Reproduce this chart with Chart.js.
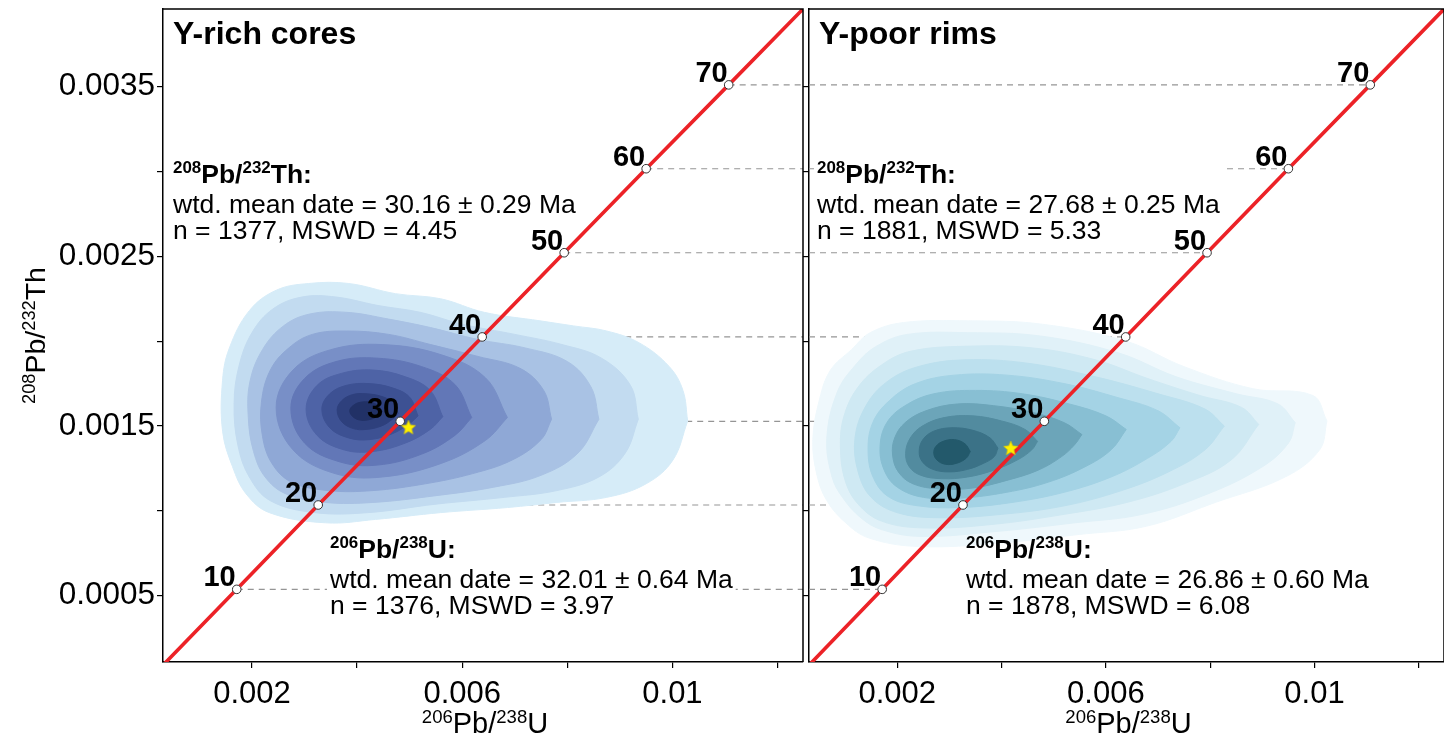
<!DOCTYPE html>
<html>
<head>
<meta charset="utf-8">
<title>208Pb/232Th vs 206Pb/238U density</title>
<script src="https://cdn.jsdelivr.net/npm/chart.js@4.4.1/dist/chart.umd.min.js"></script>
<style>
  html, body { margin: 0; padding: 0; background: #ffffff; overflow: hidden; }
  #stage { position: relative; width: 1444px; height: 738px; overflow: hidden; background: #ffffff; }
  #cores { position: absolute; left: 0; top: 0; }
  #rims { position: absolute; left: 800px; top: 0; }
</style>
</head>
<body>
<div id="stage">
  <canvas id="cores" width="812" height="738"></canvas>
  <canvas id="rims" width="653" height="738"></canvas>
</div>
<script>
const FONT = '"Liberation Sans", Arial, Helvetica, sans-serif';

// ---- axes ----
const X_RANGE = [0.000307, 0.012484];
const Y_RANGE = [0.00011, 0.003957];
const X_TICKS = [0.002, 0.004, 0.006, 0.008, 0.010, 0.012];
const X_TICK_LABELS = ['0.002', '', '0.006', '', '0.01', ''];
const Y_TICKS = [0.0005, 0.0010, 0.0015, 0.0020, 0.0025, 0.0030, 0.0035];
const Y_TICK_LABELS = ['0.0005', '', '0.0015', '', '0.0025', '', '0.0035'];
const X_TITLE = '^{206}Pb/^{238}U';
const Y_TITLE = '^{208}Pb/^{232}Th';

// ---- concordia curve (Ma) ----
const CURVE_AGES = [0, 10, 20, 30, 40, 50, 60, 70, 80];
const CURVE_X = [0.000155, 0.00171, 0.00326, 0.00482, 0.00638, 0.00794, 0.00950, 0.01107, 0.01264];
const CURVE_Y = [0.000043, 0.000538, 0.001035, 0.001528, 0.002025, 0.002521, 0.003016, 0.003510, 0.004006];
const MARKED_AGES = [10, 20, 30, 40, 50, 60, 70];

// ---- decay constants (1/yr) ----
const LAMBDA_238 = 1.55125e-10;
const LAMBDA_232 = 4.9475e-11;

// ---- panel summaries ----
const PANEL_NAMES = ['Y-rich cores', 'Y-poor rims'];
const TH_DATE = [30.16, 27.68];
const TH_ERR = [0.29, 0.25];
const TH_N = [1377, 1881];
const TH_MSWD = ['4.45', '5.33'];
const U_DATE = [32.01, 26.86];
const U_ERR = [0.64, 0.60];
const U_N = [1376, 1878];
const U_MSWD = ['3.97', '6.08'];

// ---- density outlines, ratio x 10^4, outermost level first ----
const UNIT = 1e-4;
const CORES_DENSITY = [
  [102.9,15.3, 102.0,17.1, 99.4,18.5, 93.7,19.9, 87.5,20.6, 81.2,20.9, 74.8,21.2, 64.2,21.7, 55.9,22.5, 47.3,22.8, 38.4,23.4, 30.8,23.4, 24.6,23.0, 19.5,21.8, 15.7,19.6, 14.4,17.7, 14.4,14.7, 16.3,12.6, 18.9,11.0, 23.3,9.9, 34.0,9.3, 43.5,9.5, 55.9,9.9, 68.6,10.2, 78.0,10.5, 87.5,10.8, 95.0,11.6, 100.1,13.0],
  [93.5,15.4, 92.0,17.4, 86.5,19.0, 79.0,19.8, 70.0,20.4, 60.0,21.0, 52.0,21.7, 44.0,22.1, 36.0,22.6, 29.5,22.6, 24.0,21.9, 20.0,20.5, 17.5,18.5, 16.6,16.3, 17.3,13.9, 19.5,12.0, 23.5,10.6, 32.0,9.9, 42.0,9.9, 55.0,10.4, 68.0,10.8, 78.0,11.2, 86.0,12.0, 91.0,13.4],
  [86.0,15.4, 84.5,17.3, 80.0,18.8, 72.0,19.6, 63.0,20.1, 54.0,20.8, 46.0,21.3, 38.0,21.7, 31.0,21.6, 26.0,20.9, 22.0,19.5, 19.6,17.6, 19.3,15.5, 20.3,13.5, 22.5,12.0, 26.5,11.0, 34.0,10.5, 43.0,10.5, 55.0,10.9, 66.0,11.4, 75.0,12.1, 82.0,13.4],
  [77.0,15.4, 75.5,17.1, 71.0,18.4, 63.0,19.1, 54.0,19.8, 46.0,20.4, 38.0,20.6, 31.5,20.4, 27.0,19.6, 23.5,18.3, 21.8,16.4, 22.0,14.4, 23.8,12.8, 27.5,11.7, 34.5,11.2, 43.0,11.2, 53.0,11.6, 62.0,12.2, 69.5,13.0, 75.0,14.2],
  [68.6,15.5, 64.4,17.85, 56.0,19.2, 44.8,19.8, 35.0,19.5, 27.8,18.3, 24.6,16.1, 27.8,13.6, 35.8,12.2, 44.8,12.0, 56.0,12.8, 64.4,14.15],
  [61.8,15.5, 58.6,17.45, 52.3,18.5, 43.8,19.0, 36.0,18.8, 30.0,17.8, 27.4,16.05, 30.0,14.0, 36.6,12.9, 43.8,12.7, 52.3,13.35, 58.6,14.45],
  [56.3,15.55, 53.9,17.1, 49.2,17.9, 43.0,18.3, 37.0,18.1, 32.4,17.4, 30.3,16.0, 32.4,14.45, 37.5,13.6, 43.0,13.5, 49.2,14.0, 53.9,14.8],
  [51.6,15.6, 50.0,16.7, 46.7,17.25, 42.3,17.5, 38.0,17.4, 34.8,16.9, 33.3,16.0, 34.8,14.9, 38.4,14.3, 42.3,14.2, 46.7,14.55, 50.0,15.15],
  [47.8,15.75, 46.7,16.4, 44.6,16.75, 41.7,16.9, 39.1,16.85, 37.1,16.5, 36.2,15.95, 37.1,15.25, 39.3,14.85, 41.7,14.8, 44.6,15.0, 46.7,15.4],
  [44.8,15.85, 44.0,16.2, 42.6,16.4, 40.6,16.4, 39.2,16.2, 38.6,15.9, 39.2,15.55, 40.6,15.35, 42.6,15.4, 44.0,15.6]
];
const CORES_FILL = ['#d6ecf8', '#c2dbf0', '#a9c2e4', '#8fa8d6', '#788fc7', '#6277b7', '#4e63a6', '#3d5193', '#2e407d', '#213166'];

const RIMS_DENSITY = [
  [102.4,15.3, 99.7,16.8, 88.2,17.2, 75.0,18.5, 63.9,20.0, 47.8,21.0, 33.6,21.2, 21.2,21.1, 14.8,20.5, 11.2,19.5, 7.2,18.3, 5.1,16.6, 3.8,14.2, 4.6,12.1, 6.5,10.6, 10.1,9.3, 14.6,8.4, 24.2,7.9, 39.3,8.1, 54.4,8.6, 67.8,9.1, 81.0,10.5, 94.4,12.0, 101.0,13.6],
  [96.3,15.2, 93.0,16.3, 85.0,16.9, 73.5,17.9, 62.5,19.3, 47.5,20.3, 33.5,20.5, 22.0,20.4, 16.0,19.7, 12.0,18.6, 8.5,17.0, 6.5,14.3, 7.5,12.0, 9.5,10.8, 13.0,9.6, 17.0,8.9, 24.5,8.5, 39.3,8.8, 54.0,9.3, 67.0,9.8, 79.5,11.0, 90.0,12.6, 95.0,14.0],
  [89.3,15.1, 86.0,16.1, 78.0,16.8, 68.0,17.8, 58.0,18.9, 46.0,19.6, 33.0,19.7, 22.5,19.4, 17.0,18.6, 12.5,17.3, 9.8,15.6, 9.1,13.8, 10.0,11.8, 12.5,10.4, 17.0,9.4, 25.0,9.0, 38.0,9.2, 52.0,9.8, 64.0,10.5, 75.0,11.6, 84.0,13.0],
  [82.7,15.0, 79.0,16.0, 70.0,16.9, 58.0,17.9, 45.0,18.7, 33.0,18.9, 24.0,18.5, 18.0,17.6, 14.0,16.2, 11.9,14.3, 12.5,12.3, 15.0,10.8, 20.0,9.9, 28.0,9.6, 40.0,9.8, 52.0,10.3, 63.0,11.2, 72.0,12.3, 79.0,13.6],
  [74.2,14.9, 70.0,15.9, 62.0,16.7, 52.0,17.5, 41.0,18.0, 31.0,18.0, 23.5,17.5, 18.5,16.5, 15.3,15.2, 14.4,13.5, 15.5,11.9, 18.5,10.8, 24.0,10.3, 32.0,10.2, 42.0,10.5, 52.0,11.1, 61.0,12.0, 68.0,13.1, 72.5,14.1],
  [63.9,14.8, 60.0,15.6, 53.0,16.3, 44.0,16.9, 35.0,17.1, 27.0,16.9, 21.5,16.2, 18.0,15.2, 16.7,13.8, 17.5,12.4, 20.0,11.4, 25.0,10.8, 32.0,10.75, 41.0,11.1, 49.0,11.7, 56.0,12.6, 61.0,13.6],
  [55.4,14.5, 52.0,15.2, 46.0,15.8, 38.5,16.2, 31.5,16.3, 25.5,15.9, 21.5,15.2, 19.5,14.3, 19.1,13.3, 20.2,12.3, 23.0,11.6, 28.0,11.3, 34.5,11.35, 41.0,11.8, 47.0,12.4, 51.5,13.2, 54.0,13.9],
  [46.9,14.1, 44.5,14.8, 40.0,15.3, 34.5,15.6, 29.0,15.5, 24.8,15.0, 22.5,14.3, 21.6,13.4, 22.3,12.6, 24.5,12.1, 28.5,11.9, 33.5,12.0, 38.5,12.4, 43.0,13.0, 45.8,13.6],
  [39.3,13.7, 37.8,14.3, 34.5,14.75, 30.5,14.9, 27.0,14.7, 24.9,14.2, 24.2,13.5, 24.8,12.9, 26.8,12.45, 30.0,12.3, 33.5,12.45, 36.5,12.8, 38.6,13.2],
  [34.0,13.5, 33.0,13.95, 31.0,14.2, 28.8,14.1, 27.4,13.8, 27.0,13.4, 27.6,13.0, 29.2,12.75, 31.3,12.8, 33.2,13.1]
];
const RIMS_FILL = ['#eff8fc', '#e0f1f8', '#cfe9f3', '#bce0ee', '#a4d3e5', '#88bfd3', '#6ca5b9', '#528b9f', '#3b7287', '#23596b'];

// ---- layout of the annotation blocks (px from the plot area's top-left) ----
const BLOCKS = [
  { title: [10, 35], th: [10, 177], u: [167, 552] },
  { title: [10, 35], th: [8, 177], u: [157, 552] }
];
const BLOCK_SIZE = 26.5;

Chart.defaults.font.family = FONT;

function ratio206(tMa) { return Math.expm1(LAMBDA_238 * tMa * 1e6); }
function ratio208(tMa) { return Math.expm1(LAMBDA_232 * tMa * 1e6); }

function starImage(size, fill, stroke) {
  const c = document.createElement('canvas');
  c.width = size; c.height = size;
  const g = c.getContext('2d');
  const r = size / 2 - 0.5, ri = r * 0.45;
  g.beginPath();
  for (let i = 0; i < 10; i++) {
    const a = -Math.PI / 2 + i * Math.PI / 5;
    const rr = i % 2 ? ri : r;
    g.lineTo(size / 2 + rr * Math.cos(a), size / 2 + 0.6 + rr * Math.sin(a));
  }
  g.closePath();
  g.fillStyle = fill; g.fill();
  g.lineWidth = 0.6; g.strokeStyle = stroke; g.stroke();
  return c;
}

// text with ^{...} superscripts
function runs(str) {
  const out = [];
  const re = /\^\{([^}]*)\}|([^^]+)/g;
  let m;
  while ((m = re.exec(str))) out.push(m[1] !== undefined ? [m[1], true] : [m[2], false]);
  return out;
}
function richWidth(ctx, str, size, weight) {
  let w = 0;
  for (const [t, sup] of runs(str)) {
    ctx.font = `${weight} ${sup ? size * 0.64 : size}px ${FONT}`;
    w += ctx.measureText(t).width;
  }
  return w;
}
function drawRich(ctx, str, x, y, size, weight, align) {
  const w = richWidth(ctx, str, size, weight);
  let cx = align === 'center' ? x - w / 2 : align === 'right' ? x - w : x;
  ctx.textAlign = 'left';
  ctx.textBaseline = 'alphabetic';
  for (const [t, sup] of runs(str)) {
    ctx.font = `${weight} ${sup ? size * 0.64 : size}px ${FONT}`;
    ctx.fillText(t, cx, sup ? y - size * 0.36 : y);
    cx += ctx.measureText(t).width;
  }
  return w;
}

function summaryBlocks(p) {
  return [
    { at: BLOCKS[p].th, header: '^{208}Pb/^{232}Th:', lines: [
      `wtd. mean date = ${TH_DATE[p].toFixed(2)} \u00b1 ${TH_ERR[p].toFixed(2)} Ma`,
      `n = ${TH_N[p]}, MSWD = ${TH_MSWD[p]}`] },
    { at: BLOCKS[p].u, header: '^{206}Pb/^{238}U:', lines: [
      `wtd. mean date = ${U_DATE[p].toFixed(2)} \u00b1 ${U_ERR[p].toFixed(2)} Ma`,
      `n = ${U_N[p]}, MSWD = ${U_MSWD[p]}`] }
  ];
}
function blockBackground(ctx, blk, left, baseline) {
  const size = BLOCK_SIZE;
  let w = richWidth(ctx, blk.header, size, 'bold');
  ctx.font = `normal ${size}px ${FONT}`;
  for (const l of blk.lines) w = Math.max(w, ctx.measureText(l).width);
  ctx.fillStyle = '#ffffff';
  ctx.fillRect(left - 3, baseline - size, w + 6, size * blk.lines.length + size * 1.28);
}
function blockText(ctx, blk, left, baseline) {
  const size = BLOCK_SIZE;
  ctx.fillStyle = '#000000';
  drawRich(ctx, blk.header, left, baseline - 3, size, 'bold', 'left');
  ctx.font = `normal ${size}px ${FONT}`;
  ctx.textAlign = 'left';
  blk.lines.forEach((l, i) => ctx.fillText(l, left, baseline + size * (i + 1)));
}

const panelDecor = {
  id: 'panelDecor',
  // blank backing for the summaries: above the dashed guides, under the density
  afterDatasetDraw(chart, args, o) {
    if (args.index !== 0) return;
    const { ctx, chartArea: a } = chart;
    ctx.save();
    summaryBlocks(o.panel).forEach(blk => blockBackground(ctx, blk, a.left + blk.at[0], a.top + blk.at[1]));
    ctx.restore();
  },
  afterDatasetsDraw(chart, args, o) {
    const { ctx, chartArea: a } = chart;
    const xs = chart.scales.x, ys = chart.scales.y;
    const p = o.panel, b = BLOCKS[p];
    ctx.save();
    // frame top and right edges
    ctx.strokeStyle = '#000000';
    ctx.lineWidth = 1.5;
    ctx.beginPath();
    ctx.moveTo(a.left, a.top);
    ctx.lineTo(a.right, a.top);
    ctx.lineTo(a.right, a.bottom);
    ctx.stroke();

    // summaries
    summaryBlocks(p).forEach(blk => blockText(ctx, blk, a.left + blk.at[0], a.top + blk.at[1]));

    // age labels on the concordia
    ctx.fillStyle = '#000000';
    ctx.font = `bold 29px ${FONT}`;
    ctx.textAlign = 'right';
    ctx.textBaseline = 'alphabetic';
    MARKED_AGES.forEach(age => {
      const i = CURVE_AGES.indexOf(age);
      ctx.fillText(String(age), xs.getPixelForValue(CURVE_X[i]) - 1, ys.getPixelForValue(CURVE_Y[i]) - 3);
    });

    // panel title
    ctx.textAlign = 'left';
    ctx.font = `bold 32px ${FONT}`;
    ctx.fillText(PANEL_NAMES[p], a.left + b.title[0], a.top + b.title[1]);

    // axis titles
    drawRich(ctx, X_TITLE, (a.left + a.right) / 2 + 2, 733, 29, 'normal', 'center');
    if (o.yTitle) {
      ctx.save();
      ctx.translate(45, (a.top + a.bottom) / 2);
      ctx.rotate(-Math.PI / 2);
      drawRich(ctx, Y_TITLE, 0, 0, 28.5, 'normal', 'center');
      ctx.restore();
    }
    ctx.restore();
  }
};

function buildPanel(canvasId, p, density, fills, withYLabels) {
  const datasets = [];

  // dashed guides at each marked age
  MARKED_AGES.forEach(age => {
    const i = CURVE_AGES.indexOf(age);
    const pts = p === 0
      ? [{ x: CURVE_X[i], y: CURVE_Y[i] }, { x: X_RANGE[1], y: CURVE_Y[i] }]
      : [{ x: X_RANGE[0], y: CURVE_Y[i] }, { x: CURVE_X[i], y: CURVE_Y[i] }];
    datasets.push({
      type: 'line', data: pts, borderColor: '#959595', borderWidth: 1.2,
      borderDash: [6, 5], pointRadius: 0, fill: false, tension: 0, order: 300
    });
  });

  // filled density levels
  density.forEach((flat, i) => {
    const pts = [];
    for (let k = 0; k < flat.length; k += 2) pts.push({ x: flat[k] * UNIT, y: flat[k + 1] * UNIT });
    pts.push(pts[0]);
    datasets.push({
      type: 'line', data: pts, fill: 'shape', backgroundColor: fills[i], borderColor: fills[i],
      borderWidth: 1, pointRadius: 0, tension: 0.38, order: 200 - i
    });
  });

  // concordia
  datasets.push({
    type: 'line',
    data: CURVE_AGES.map((t, i) => ({ x: CURVE_X[i], y: CURVE_Y[i] })),
    borderColor: '#ec2227', borderWidth: 3.6, pointRadius: 0, fill: false, tension: 0, order: 3
  });
  datasets.push({
    type: 'scatter',
    data: MARKED_AGES.map(age => { const i = CURVE_AGES.indexOf(age); return { x: CURVE_X[i], y: CURVE_Y[i] }; }),
    pointRadius: 4.3, pointBackgroundColor: '#ffffff', pointBorderColor: '#333333', pointBorderWidth: 1,
    order: 2
  });

  // weighted-mean dates on the concordia axes
  datasets.push({
    type: 'scatter',
    data: [{ x: ratio206(U_DATE[p]), y: ratio208(TH_DATE[p]) }],
    pointStyle: starImage(16, '#fff200', '#d8c800'), pointRadius: 8, order: 1
  });

  new Chart(document.getElementById(canvasId), {
    type: 'scatter',
    data: { datasets },
    options: {
      responsive: false, animation: false, devicePixelRatio: 1, events: [],
      layout: { padding: { top: 8, right: withYLabels ? 4 : 0, left: 0, bottom: 0 } },
      plugins: {
        legend: { display: false }, tooltip: { enabled: false },
        panelDecor: { panel: p, yTitle: withYLabels }
      },
      scales: {
        x: {
          type: 'linear', position: 'bottom', min: X_RANGE[0], max: X_RANGE[1],
          afterBuildTicks(s) { s.ticks = X_TICKS.map(v => ({ value: v })); },
          afterFit(s) { s.height = 76; s.paddingLeft = 0; s.paddingRight = 0; },
          ticks: {
            callback: (v, i) => X_TICK_LABELS[i], autoSkip: false, maxRotation: 0,
            font: { size: 31 }, color: '#000000', padding: 8
          },
          grid: { drawOnChartArea: false, drawTicks: true, tickLength: 6, color: '#000000', lineWidth: 1.2 },
          border: { color: '#000000', width: 1.5 }
        },
        y: {
          type: 'linear', position: 'left', min: Y_RANGE[0], max: Y_RANGE[1],
          afterBuildTicks(s) { s.ticks = Y_TICKS.map(v => ({ value: v })); },
          afterFit(s) { s.width = withYLabels ? 163 : 8; s.paddingTop = 0; s.paddingBottom = 0; },
          ticks: {
            display: withYLabels, callback: (v, i) => Y_TICK_LABELS[i], autoSkip: false,
            font: { size: 31.5 }, color: '#000000', padding: 2
          },
          grid: { drawOnChartArea: false, drawTicks: true, tickLength: 6, color: '#000000', lineWidth: 1.2 },
          border: { color: '#000000', width: 1.5 }
        }
      }
    },
    plugins: [panelDecor]
  });
}

buildPanel('cores', 0, CORES_DENSITY, CORES_FILL, true);
buildPanel('rims', 1, RIMS_DENSITY, RIMS_FILL, false);
</script>
</body>
</html>
